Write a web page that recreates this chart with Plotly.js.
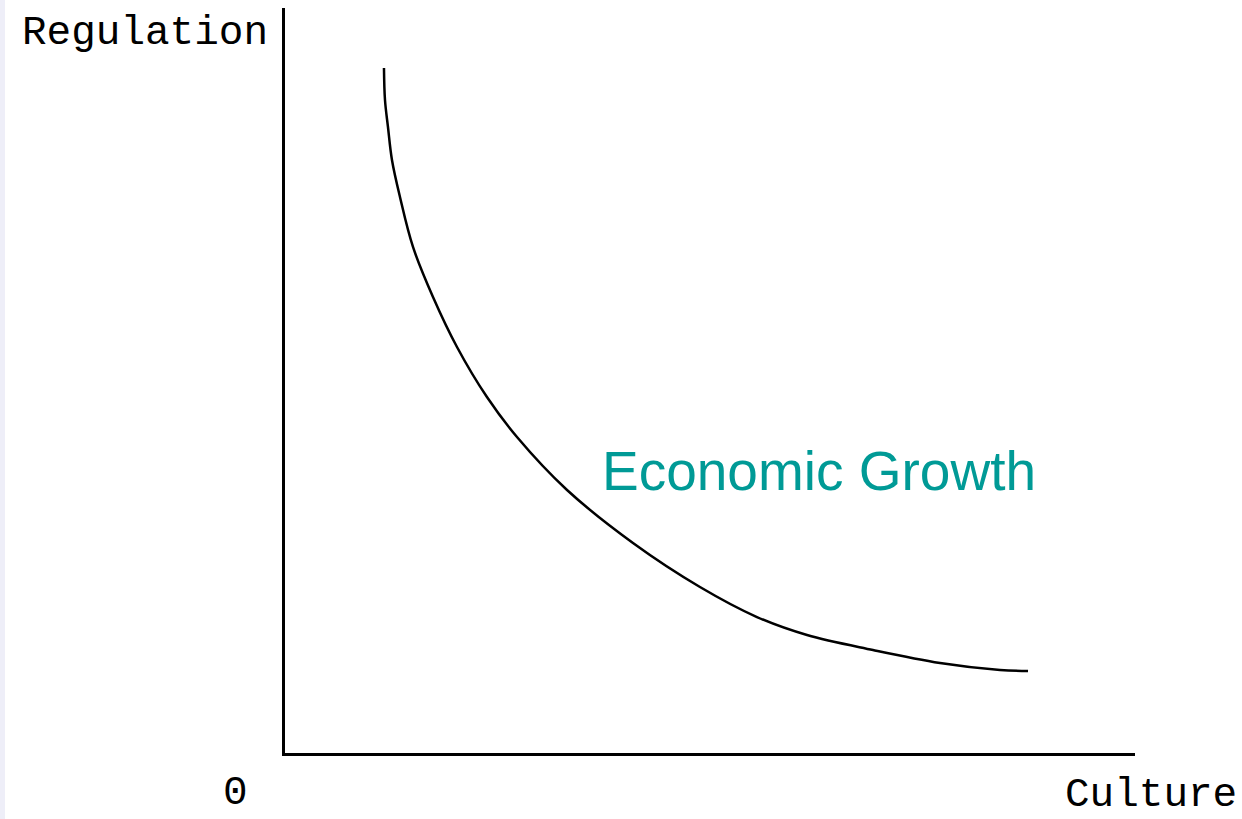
<!DOCTYPE html>
<html>
<head>
<meta charset="utf-8">
<script src="https://cdn.plot.ly/plotly-3.0.1.min.js"></script>
<style>html,body{margin:0;padding:0;background:#fff;}#chart{width:1242px;height:819px;}</style>
</head>
<body>
<div id="chart"></div>
<script>
// Curve: Economic Growth (Culture on x, Regulation on y), arbitrary 0-100 units
const cultureX = [11.75, 11.87, 12.22, 12.69, 13.63, 15.16, 17.51, 20.33, 23.85, 27.38, 33.26, 41.01, 48.88, 55.58, 61.46, 69.21, 77.09, 84.14, 87.43];
const regulationY = [91.97, 87.68, 84.07, 79.65, 74.70, 68.01, 61.31, 54.62, 47.92, 42.57, 35.48, 28.38, 22.49, 18.47, 16.06, 14.06, 12.32, 11.38, 11.24];
const curveLabel = "Economic Growth";
const xLabel = "Culture";
const yLabel = "Regulation";
const originLabel = "0";

const labelFont = {family: "Liberation Mono, monospace", size: 41, color: "#000"};

const trace = {
  x: cultureX, y: regulationY, type: "scatter", mode: "lines",
  line: {color: "#000", width: 2.5, shape: "spline", smoothing: 1},
  hoverinfo: "skip", showlegend: false
};

const layout = {
  width: 1242, height: 819,
  margin: {l: 285, r: 107, t: 8, b: 66, pad: 0},
  paper_bgcolor: "#fff", plot_bgcolor: "#fff",
  xaxis: {range: [0.12, 100], showline: true, linecolor: "#000", linewidth: 3,
          showgrid: false, zeroline: false, showticklabels: false, ticks: "", fixedrange: true},
  yaxis: {range: [0.27, 100], showline: true, linecolor: "#000", linewidth: 3,
          showgrid: false, zeroline: false, showticklabels: false, ticks: "", fixedrange: true},
  shapes: [
    {type: "rect", xref: "paper", yref: "paper", x0: -0.3353, x1: -0.3294, y0: -0.09, y1: 1.011,
     fillcolor: "#EEEEF8", line: {width: 0}, layer: "below"}
  ],
  annotations: [
    {text: yLabel, x: -0.3118, y: 0.9664, xref: "paper", yref: "paper", xanchor: "left", yanchor: "middle",
     showarrow: false, font: labelFont},
    {text: originLabel, x: -0.0588, y: -0.0535, xref: "paper", yref: "paper", xanchor: "center", yanchor: "middle",
     showarrow: false, font: labelFont},
    {text: xLabel, x: 1.0194, y: -0.0565, xref: "paper", yref: "paper", xanchor: "center", yanchor: "middle",
     showarrow: false, font: labelFont},
    {text: curveLabel, x: 62.81, y: 38.0, xref: "x", yref: "y", xanchor: "center", yanchor: "middle",
     showarrow: false, font: {family: "Liberation Sans, Arial, sans-serif", size: 55, color: "#009A96"}}
  ]
};

Plotly.newPlot("chart", [trace], layout, {staticPlot: true, displayModeBar: false});
</script>
</body>
</html>
